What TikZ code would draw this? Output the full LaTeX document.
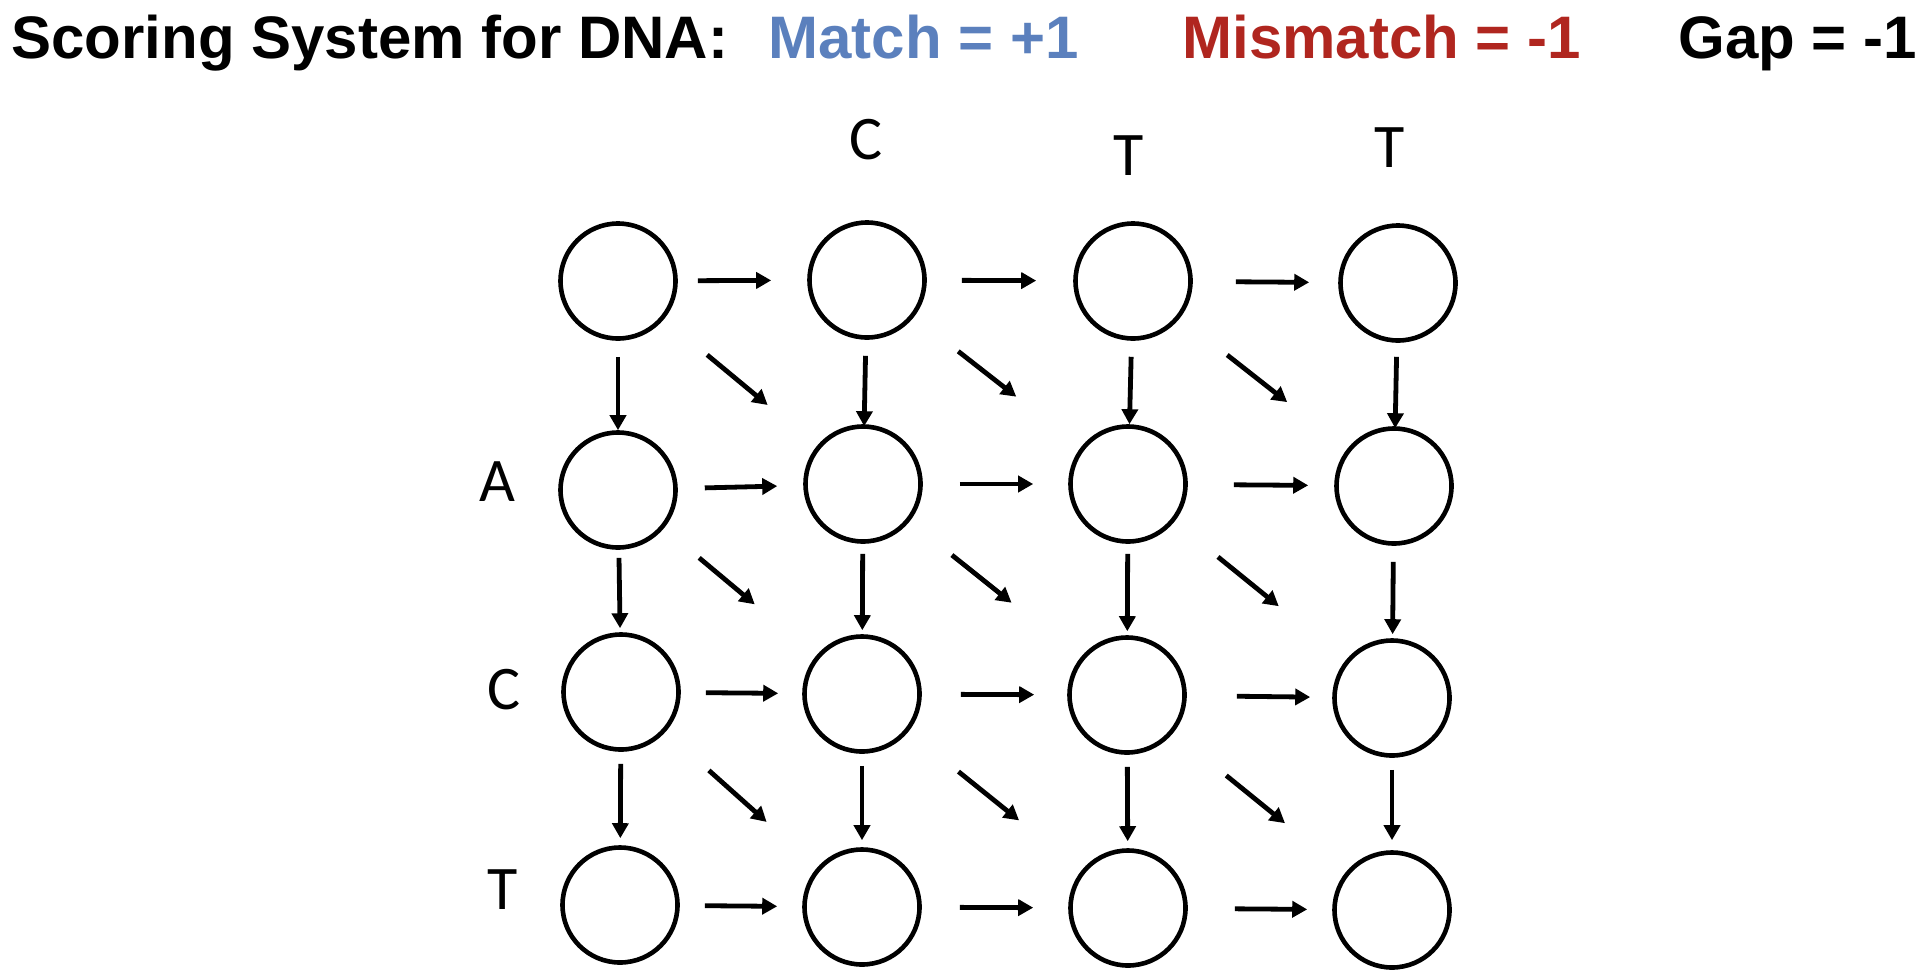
\documentclass[tikz,border=0pt]{standalone}
\usepackage{fontspec}
\setmainfont{Carlito}
\newfontfamily\headfont{Liberation Sans}
\usepackage{tikz}
\usetikzlibrary{arrows.meta}
\definecolor{matchblue}{RGB}{91,128,189}
\definecolor{mismatchred}{RGB}{176,38,31}

\begin{document}
\begin{tikzpicture}[
    x=0.5pt, y=-0.5pt,
    cell/.style={circle, draw, line width=2.3pt, minimum size=57.5pt, inner sep=0pt},
    arr/.style={-{Triangle[length=7.5pt, width=8pt]}, line width=2.4pt},
    ends/.style 2 args={shorten <=#1, shorten >=#2},
    letter/.style={font=\fontsize{31}{31}\selectfont, inner sep=0pt},
    heading/.style={font=\headfont\bfseries\fontsize{30}{32}\selectfont, inner sep=0pt, anchor=base west}
    ]
   \useasboundingbox (0,0) rectangle (1920,975);
   % scoring line
   \node[heading] (score) at (11,58) {Scoring System for DNA:};
   \node[heading, matchblue] (match) at (768,58) {Match = +1};
   \node[heading, mismatchred] (mismatch) at (1182,58) {Mismatch = -1};
   \node[heading] (gappen) at (1678,58) {Gap = -1};
   % sequences
   \node[letter] (top1) at (866,140) {C};
   \node[letter] (top2) at (1129,156) {T};
   \node[letter] (top3) at (1390,148) {T};
   \node[letter] (left1) at (497,482) {A};
   \node[letter] (left2) at (504,690) {C};
   \node[letter] (left3) at (503,890) {T};
   % grid of cells
   \node[cell] (n00) at (618,281) {};
   \node[cell] (n01) at (867,280) {};
   \node[cell] (n02) at (1133,281) {};
   \node[cell] (n03) at (1398,283) {};
   \node[cell] (n10) at (618,490) {};
   \node[cell] (n11) at (863,484) {};
   \node[cell] (n12) at (1128,484) {};
   \node[cell] (n13) at (1394,486) {};
   \node[cell] (n20) at (621,692) {};
   \node[cell] (n21) at (862,694) {};
   \node[cell] (n22) at (1127,695) {};
   \node[cell] (n23) at (1392,698) {};
   \node[cell] (n30) at (620,905) {};
   \node[cell] (n31) at (862,907) {};
   \node[cell] (n32) at (1128,908) {};
   \node[cell] (n33) at (1392,910) {};
   % horizontal moves
   \draw[arr, ends={10pt}{18pt}] (n00) -- (n01);
   \draw[arr, ends={17.5pt}{18.5pt}] (n01) -- (n02);
   \draw[arr, ends={21.5pt}{14.5pt}] (n02) -- (n03);
   \draw[arr, ends={13.5pt}{13pt}] (n10) -- (n11);
   \draw[arr, ends={18.5pt}{17.5pt}] (n11) -- (n12);
   \draw[arr, ends={23pt}{13pt}] (n12) -- (n13);
   \draw[arr, ends={12.5pt}{12pt}] (n20) -- (n21);
   \draw[arr, ends={19.5pt}{16.5pt}] (n21) -- (n22);
   \draw[arr, ends={25pt}{11pt}] (n22) -- (n23);
   \draw[arr, ends={12.5pt}{12.5pt}] (n30) -- (n31);
   \draw[arr, ends={19pt}{17.5pt}] (n31) -- (n32);
   \draw[arr, ends={23.5pt}{12.5pt}] (n32) -- (n33);
   % vertical moves
   \draw[arr, ends={8pt}{0pt}] (n00) -- (n10);
   \draw[arr, ends={8pt}{-1pt}] (n01) -- (n11);
   \draw[arr, ends={8pt}{0pt}] (n02) -- (n12);
   \draw[arr, ends={7pt}{-1pt}] (n03) -- (n13);
   \draw[arr, ends={4pt}{2pt}] (n10) -- (n20);
   \draw[arr, ends={5pt}{2pt}] (n11) -- (n21);
   \draw[arr, ends={5pt}{2pt}] (n12) -- (n22);
   \draw[arr, ends={8pt}{2pt}] (n13) -- (n23);
   \draw[arr, ends={6pt}{3.5pt}] (n20) -- (n30);
   \draw[arr, ends={6pt}{3.5pt}] (n21) -- (n31);
   \draw[arr, ends={6pt}{3.5pt}] (n22) -- (n32);
   \draw[arr, ends={6pt}{5pt}] (n23) -- (n33);
   % diagonal moves
   \draw[arr, ends={28pt}{32pt}] (n00) -- (n11);
   \draw[arr, ends={28pt}{41pt}] (n01) -- (n12);
   \draw[arr, ends={30pt}{38pt}] (n02) -- (n13);
   \draw[arr, ends={23pt}{40pt}] (n10) -- (n21);
   \draw[arr, ends={27pt}{44pt}] (n11) -- (n22);
   \draw[arr, ends={28pt}{43pt}] (n12) -- (n23);
   \draw[arr, ends={29pt}{34pt}] (n20) -- (n31);
   \draw[arr, ends={32pt}{40pt}] (n21) -- (n32);
   \draw[arr, ends={34pt}{39pt}] (n22) -- (n33);
\end{tikzpicture}
\end{document}
